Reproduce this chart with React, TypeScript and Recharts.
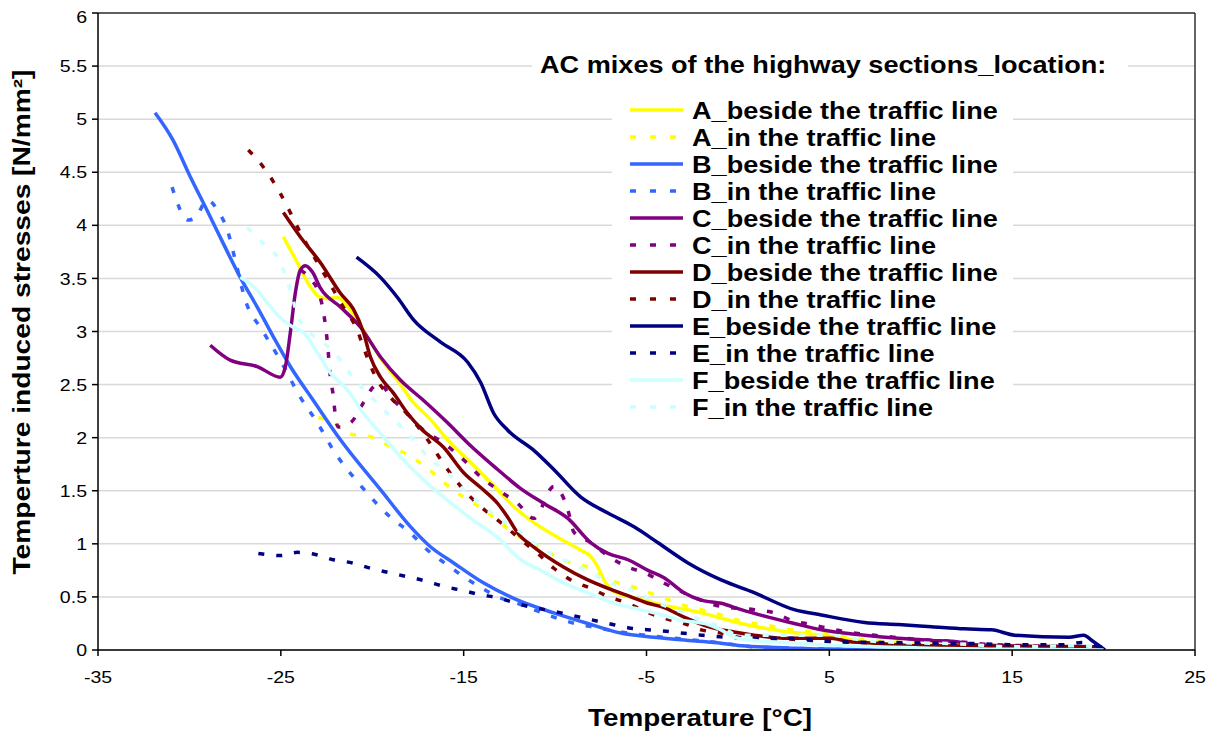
import React from "react";
import {
  LineChart,
  Line,
  XAxis,
  YAxis,
  CartesianGrid,
  Legend,
  ReferenceLine,
} from "recharts";

// [temperature °C, stress N/mm²]
const A_BESIDE: [number, number][] = [
  [-24.86, 3.89], [-24.1, 3.65], [-23.38, 3.42], [-22.84, 3.32], [-22.45, 3.31], [-21.9, 3.32],
  [-21.19, 3.2], [-20.48, 3.01], [-19.55, 2.75], [-18.62, 2.54], [-17.74, 2.33], [-16.81, 2.17],
  [-15.88, 1.98], [-14.23, 1.7], [-13.14, 1.51], [-12.26, 1.35], [-11.16, 1.2], [-9.85, 1.06],
  [-8.59, 0.94], [-8.04, 0.88], [-7.66, 0.78], [-7.33, 0.66], [-6.78, 0.55], [-5.85, 0.5],
  [-4.04, 0.42], [-2.01, 0.35], [0.18, 0.25], [2.75, 0.17], [4.56, 0.14], [7.85, 0.06],
  [12, 0.04], [19.7, 0.02], [20, 0],
];
const A_IN: [number, number][] = [
  [-22.95, 2.19], [-22.12, 2.14], [-21.08, 2.03], [-20.1, 2.01], [-19.16, 1.93], [-18.07, 1.84],
  [-16.97, 1.71], [-16.1, 1.58], [-15, 1.44], [-14.07, 1.34], [-13.14, 1.22], [-12.26, 1.1],
  [-10.78, 0.96], [-9.14, 0.82], [-8.04, 0.77], [-7.05, 0.66], [-6.01, 0.61], [-5.03, 0.55],
  [-4.04, 0.49], [-2.95, 0.42], [-2.01, 0.38], [-0.92, 0.33], [0.01, 0.28], [0.89, 0.25],
  [1.99, 0.22], [2.92, 0.19], [4.01, 0.17], [7.3, 0.09], [11, 0.06], [15.14, 0.04], [20, 0],
];
const B_BESIDE: [number, number][] = [
  [-31.88, 5.06], [-30.89, 4.8], [-29.96, 4.46], [-29.03, 4.14], [-28.15, 3.83], [-27.22, 3.51],
  [-26.29, 3.23], [-25.41, 2.95], [-24.48, 2.67], [-23.22, 2.35], [-21.74, 1.98], [-19.55, 1.51],
  [-17.9, 1.16], [-16.8, 0.97], [-15.55, 0.82], [-13.9, 0.63], [-12.04, 0.47], [-10.07, 0.35],
  [-8.21, 0.25], [-6.4, 0.16], [-4.59, 0.12], [-2.73, 0.09], [-1.3, 0.07], [0.18, 0.04],
  [2.75, 0.02], [4.56, 0.01], [20, 0],
];
const B_IN: [number, number][] = [
  [-30.95, 4.36], [-30.07, 4.05], [-29.68, 4.07], [-29.03, 4.24], [-28.42, 4.13], [-27.93, 3.96],
  [-27.49, 3.67], [-26.95, 3.3], [-26.01, 3.01], [-25.03, 2.73], [-23.93, 2.38], [-23, 2.14],
  [-22.12, 1.88], [-20.64, 1.55], [-19, 1.25], [-17.9, 1.1], [-16.97, 0.94], [-15.88, 0.8],
  [-15, 0.69], [-14.07, 0.59], [-13.14, 0.5], [-12.04, 0.44], [-11.16, 0.38], [-10.07, 0.31],
  [-9.14, 0.26], [-8.04, 0.22], [-7.11, 0.19], [-6.01, 0.16], [-1.08, 0.07], [0.89, 0.03],
  [5, 0.01], [20, 0],
];
const C_BESIDE: [number, number][] = [
  [-28.86, 2.87], [-27.77, 2.73], [-26.29, 2.67], [-25.03, 2.57], [-24.75, 2.67], [-24.48, 2.99],
  [-24.21, 3.36], [-23.93, 3.58], [-23.66, 3.62], [-23.27, 3.56], [-22.84, 3.41], [-21.74, 3.23],
  [-20.64, 3.04], [-19.55, 2.76], [-18.45, 2.54], [-17.19, 2.35], [-15.88, 2.14], [-14.78, 1.95],
  [-13.14, 1.7], [-11.88, 1.52], [-10.62, 1.38], [-9.3, 1.24], [-8.04, 1.01], [-7.11, 0.91],
  [-6.01, 0.85], [-4.92, 0.75], [-4.04, 0.68], [-2.95, 0.54], [-2.01, 0.47], [-0.92, 0.44],
  [0.18, 0.38], [1.66, 0.31], [3.08, 0.25], [4.56, 0.19], [6.92, 0.14], [8.78, 0.11],
  [10.59, 0.09], [11.85, 0.08], [12.95, 0.05], [19.9, 0.02],
];
const C_IN: [number, number][] = [
  [-23.93, 3.58], [-23.4, 3.5], [-22.84, 3.32], [-22.45, 2.89], [-22.29, 2.57], [-22.12, 2.38],
  [-22.01, 2.19], [-21.85, 2.1], [-21.19, 2.14], [-20.48, 2.33], [-19.93, 2.48], [-19.55, 2.51],
  [-19, 2.38], [-18.45, 2.29], [-17.19, 2.07], [-16.1, 1.95], [-15, 1.79], [-14.07, 1.63],
  [-13.14, 1.51], [-12.04, 1.38], [-11.16, 1.24], [-10.07, 1.54], [-9.68, 1.48], [-9.3, 1.32],
  [-8.97, 1.11], [-8.04, 1.01], [-7.05, 0.88], [-6.01, 0.78], [-5.14, 0.73], [-4.04, 0.63],
  [-2.01, 0.47], [-0.92, 0.41], [0.89, 0.38], [1.99, 0.35], [2.92, 0.28], [4.01, 0.24],
  [5.93, 0.17], [7.96, 0.13], [9.88, 0.1], [11.85, 0.08], [14, 0.05], [20, 0.03],
];
const D_BESIDE: [number, number][] = [
  [-24.86, 4.12], [-23.93, 3.89], [-22.84, 3.65], [-21.74, 3.36], [-21.03, 3.21], [-20.48, 2.99],
  [-20.1, 2.76], [-19.55, 2.57], [-18.84, 2.42], [-18.07, 2.23], [-17.3, 2.08], [-16.1, 1.91],
  [-15, 1.67], [-14.07, 1.53], [-13.14, 1.38], [-12.59, 1.25], [-12.04, 1.1], [-11.16, 0.97],
  [-9.52, 0.78], [-8.21, 0.66], [-6.95, 0.57], [-5.85, 0.5], [-4.92, 0.44], [-4.04, 0.4],
  [-2.95, 0.31], [-1.63, 0.22], [-0.21, 0.17], [0.89, 0.14], [2.75, 0.11], [5.11, 0.11],
  [6.04, 0.08], [7.85, 0.06], [9.66, 0.04], [19.9, 0.03],
];
const D_IN: [number, number][] = [
  [-26.78, 4.71], [-25.96, 4.55], [-25.03, 4.3], [-24.48, 4.12], [-23.93, 3.93], [-23, 3.65],
  [-22.45, 3.49], [-21.58, 3.23], [-20.81, 3.01], [-20.48, 2.85], [-19.75, 2.55], [-19, 2.38],
  [-17.9, 2.19], [-16.97, 1.98], [-15.88, 1.7], [-15, 1.51], [-14.07, 1.35], [-12.97, 1.2],
  [-11.88, 1.04], [-10.95, 0.91], [-10.07, 0.77], [-9.14, 0.66], [-8.04, 0.58], [-7.05, 0.5],
  [-6.01, 0.44], [-5.03, 0.36], [-4.04, 0.3], [-2.95, 0.25], [-2.01, 0.19], [-0.92, 0.16],
  [0.01, 0.12], [0.89, 0.11], [5, 0.08], [10, 0.05], [20, 0.03],
];
const E_BESIDE: [number, number][] = [
  [-20.86, 3.7], [-19.55, 3.51], [-18.62, 3.32], [-17.74, 3.11], [-16.26, 2.9], [-14.78, 2.71],
  [-14.07, 2.52], [-13.36, 2.23], [-12.59, 2.07], [-11.16, 1.88], [-10.07, 1.7], [-8.59, 1.44],
  [-7.11, 1.29], [-5.68, 1.16], [-4.37, 1.01], [-2.73, 0.82], [-0.92, 0.66], [0.89, 0.54],
  [3.08, 0.38], [4.56, 0.33], [6.92, 0.26], [8.78, 0.24], [10.59, 0.22], [12.4, 0.2],
  [13.88, 0.19], [15.14, 0.14], [18.1, 0.12], [18.92, 0.14], [19.36, 0.09], [20.07, 0],
];
const E_IN: [number, number][] = [
  [-26.23, 0.91], [-25.03, 0.89], [-24.1, 0.92], [-23.11, 0.9], [-22.12, 0.85], [-21.08, 0.82],
  [-20.1, 0.77], [-19.11, 0.73], [-18.07, 0.69], [-17.08, 0.65], [-16.1, 0.6], [-15.05, 0.56],
  [-14.07, 0.52], [-13.08, 0.49], [-12.15, 0.44], [-9.68, 0.35], [-7.11, 0.25], [-6.01, 0.21],
  [-4.1, 0.18], [-1.99, 0.14], [0.89, 0.11], [2.92, 0.11], [4.95, 0.08], [12.95, 0.06],
  [14.97, 0.05], [17.88, 0.05], [18.81, 0.07], [20.07, 0.01],
];
const F_BESIDE: [number, number][] = [
  [-27.22, 3.51], [-26.29, 3.39], [-25.74, 3.27], [-25.03, 3.13], [-24.32, 3.04], [-23.77, 2.99],
  [-23, 2.8], [-22.29, 2.61], [-21.36, 2.45], [-20.48, 2.23], [-19.55, 2.04], [-18.45, 1.82],
  [-17.19, 1.6], [-15.88, 1.41], [-14.45, 1.22], [-13.14, 1.06], [-11.88, 0.85], [-10.78, 0.75],
  [-9.52, 0.63], [-8.21, 0.54], [-6.95, 0.45], [-5.85, 0.4], [-4.59, 0.35], [-3.11, 0.28],
  [-1.63, 0.24], [-0.92, 0.19], [-0.21, 0.12], [0.89, 0.09], [2.75, 0.07], [4.56, 0.05],
  [10, 0.02], [20, 0],
];
const F_IN: [number, number][] = [
  [-26.84, 3.98], [-25.96, 3.83], [-25.03, 3.65], [-24.48, 3.39], [-24.1, 3.16], [-23.55, 3.01],
  [-22.84, 2.92], [-21.74, 2.73], [-21.03, 2.56], [-20.26, 2.42], [-18.84, 2.17], [-17.9, 2.01],
  [-16.97, 1.82], [-15.88, 1.67], [-15, 1.51], [-14.07, 1.38], [-13.14, 1.25], [-12.04, 1.13],
  [-11.16, 1.01], [-10.07, 0.89], [-9.14, 0.82], [-8.04, 0.73], [-7.11, 0.64], [-6.01, 0.58],
  [-5.03, 0.5], [-4.04, 0.42], [-2.95, 0.35], [-2.01, 0.28], [-0.92, 0.22], [0.01, 0.14],
  [4.95, 0.14], [6.92, 0.09], [8.95, 0.07], [11.85, 0.06], [14.97, 0.03], [18.81, 0.04],
  [19.9, 0.02],
];

const X_TICKS = [-35, -25, -15, -5, 5, 15, 25];
const Y_TICKS = [0, 0.5, 1, 1.5, 2, 2.5, 3, 3.5, 4, 4.5, 5, 5.5, 6];

const FONT = '"Liberation Sans", Arial, sans-serif';
const DASH = "6 12";
const BOLD = { fontFamily: FONT, fontWeight: "bold" as const, fontSize: 24, fill: "#000" };
const TICK = { fontFamily: FONT, fontSize: 17, fill: "#000" };
const TICK_SX = 1.15;

const SERIES = [
  { name: "A_beside the traffic line", points: A_BESIDE, color: "#FFFF00", dashed: false },
  { name: "A_in the traffic line", points: A_IN, color: "#FFFF00", dashed: true },
  { name: "B_beside the traffic line", points: B_BESIDE, color: "#3366FF", dashed: false },
  { name: "B_in the traffic line", points: B_IN, color: "#3366FF", dashed: true },
  { name: "C_beside the traffic line", points: C_BESIDE, color: "#800080", dashed: false },
  { name: "C_in the traffic line", points: C_IN, color: "#800080", dashed: true },
  { name: "D_beside the traffic line", points: D_BESIDE, color: "#800000", dashed: false },
  { name: "D_in the traffic line", points: D_IN, color: "#800000", dashed: true },
  { name: "E_beside the traffic line", points: E_BESIDE, color: "#000080", dashed: false },
  { name: "E_in the traffic line", points: E_IN, color: "#000080", dashed: true },
  { name: "F_beside the traffic line", points: F_BESIDE, color: "#CCFFFF", dashed: false },
  { name: "F_in the traffic line", points: F_IN, color: "#CCFFFF", dashed: true },
];

// legend drawn as svg so the wide, stretched lettering of the original can be matched
function ChartLegend() {
  const sx = 1.13;
  return (
    <svg width={600} height={390} style={{ display: "block" }}>
      <rect x={0} y={0} width={596} height={32} fill="#fff" />
      <text transform={`translate(8, 24.5) scale(${sx},1)`} style={BOLD}>
        AC mixes of the highway sections_location:
      </text>
      <rect x={80} y={46} width={401} height={332} fill="#fff" />
      {SERIES.map((s, i) => {
        const cy = 62 + 27 * i;
        return (
          <g key={s.name}>
            <line
              x1={98}
              y1={cy}
              x2={151}
              y2={cy}
              stroke={s.color}
              strokeWidth={3.5}
              strokeDasharray={s.dashed ? "6 14" : undefined}
            />
            <text transform={`translate(160, ${cy + 8.5}) scale(${sx},1)`} style={BOLD}>
              {s.name}
            </text>
          </g>
        );
      })}
    </svg>
  );
}

type VB = { x: number; y: number; width: number; height: number };
type TickProps = { x?: number; y?: number; payload?: { value: number } };

function XTick({ x = 0, y = 0, payload }: TickProps) {
  return (
    <text transform={`translate(${x}, ${y}) scale(${TICK_SX},1)`} dy="0.75em" textAnchor="middle" style={TICK}>
      {payload?.value}
    </text>
  );
}

function YTick({ x = 0, y = 0, payload }: TickProps) {
  return (
    <text transform={`translate(${x}, ${y}) scale(${TICK_SX},1)`} dy="0.36em" textAnchor="end" style={TICK}>
      {payload?.value}
    </text>
  );
}

function YLabel({ viewBox }: { viewBox?: VB }) {
  if (!viewBox) return null;
  const cx = viewBox.x + 14;
  const cy = 314;
  return (
    <text
      x={cx}
      y={cy}
      transform={`rotate(-90 ${cx} ${cy})`}
      textAnchor="middle"
      dominantBaseline="central"
      textLength={505}
      lengthAdjust="spacingAndGlyphs"
      style={{ ...BOLD, fontSize: 23 }}
    >
      Temperture induced stresses [N/mm²]
    </text>
  );
}

function XLabel({ viewBox }: { viewBox?: VB }) {
  if (!viewBox) return null;
  return (
    <text
      x={692}
      y={viewBox.y + viewBox.height - 4}
      textAnchor="middle"
      textLength={224}
      lengthAdjust="spacingAndGlyphs"
      style={BOLD}
    >
      Temperature [°C]
    </text>
  );
}

export default function App() {
  return (
    <LineChart width={1199} height={729} margin={{ top: 5, right: 12, bottom: 7, left: 0 }}>
      <CartesianGrid horizontal vertical={false} stroke="#d9d9d9" strokeWidth={1.5} />
      <XAxis
        type="number"
        dataKey="t"
        domain={[-35, 25]}
        ticks={X_TICKS}
        allowDataOverflow
        stroke="#000"
        strokeWidth={1.5}
        height={80}
        tickSize={6}
        tickMargin={14}
        tick={<XTick />}
        label={<XLabel />}
      />
      <YAxis
        type="number"
        domain={[0, 6]}
        ticks={Y_TICKS}
        allowDataOverflow
        width={90}
        stroke="#000"
        strokeWidth={1.5}
        tickSize={6}
        tickMargin={5}
        tick={<YTick />}
        label={<YLabel />}
      />
      <ReferenceLine y={6} stroke="#333" strokeWidth={1.5} />
      <ReferenceLine x={25} stroke="#333" strokeWidth={1.5} />
      <Legend
        layout="vertical"
        align="center"
        verticalAlign="middle"
        content={() => <ChartLegend />}
        wrapperStyle={{ position: "absolute", left: 524, top: 40, width: "auto" }}
      />
      {SERIES.map((s) => (
        <Line
          key={s.name}
          name={s.name}
          data={s.points.map(([t, v]) => ({ t, v }))}
          dataKey="v"
          type="monotone"
          stroke={s.color}
          strokeWidth={3.5}
          strokeDasharray={s.dashed ? DASH : undefined}
          dot={false}
          activeDot={false}
          isAnimationActive={false}
        />
      ))}
    </LineChart>
  );
}
